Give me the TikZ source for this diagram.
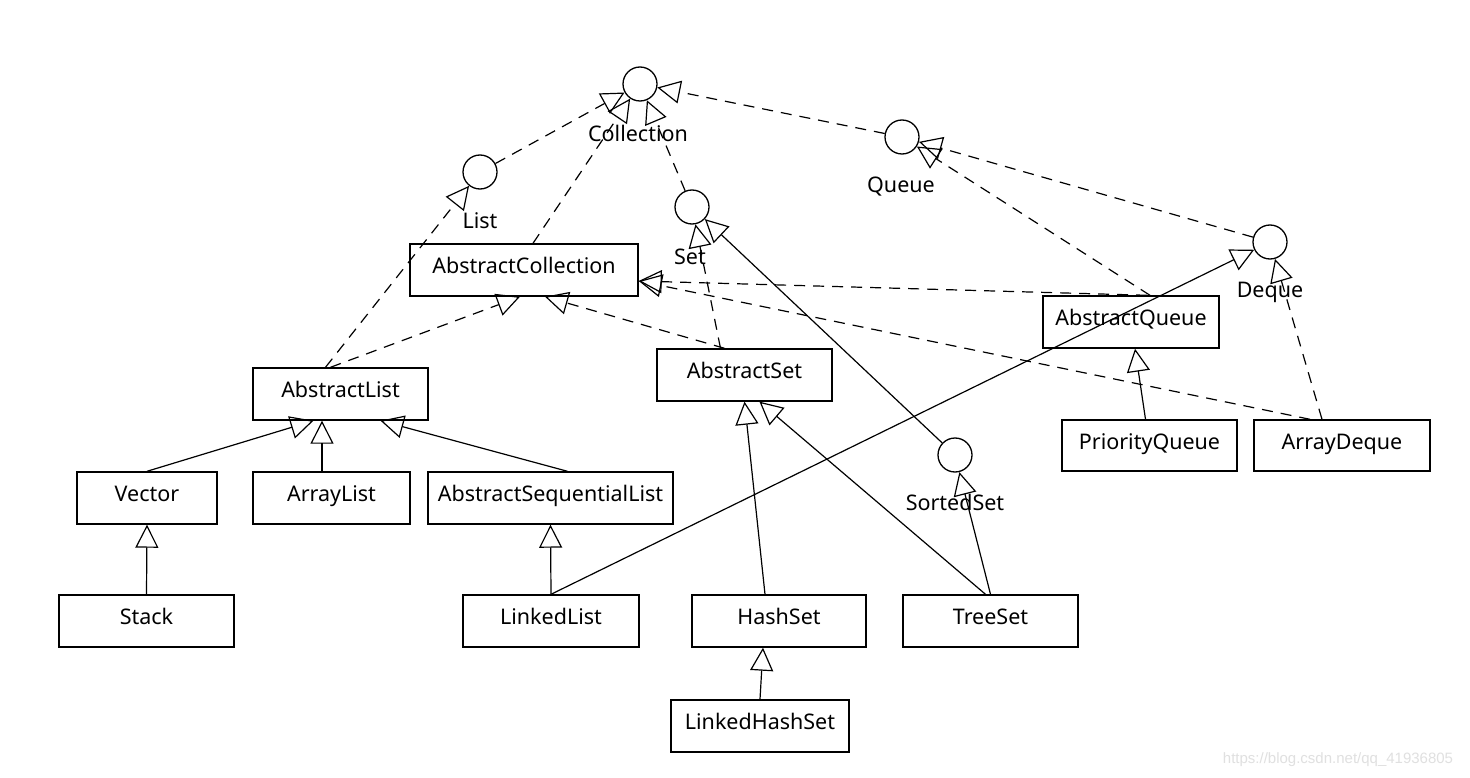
\documentclass[tikz,border=0pt]{standalone}
\usepackage{fontspec}
\setmainfont{Noto Sans}
\usetikzlibrary{arrows.meta}
\begin{document}
\begin{tikzpicture}[x=1pt,y=-1pt,
 txt/.style={font=\fontsize{21.5}{24}\selectfont},
 cls/.style={draw,line width=1.4pt,rectangle,inner sep=0pt,txt,minimum height=52pt,text height=16pt,text depth=9pt},
 ifc/.style={draw,circle,line width=1.3pt,minimum size=34pt,inner sep=0pt},
 lbl/.style={txt,inner sep=0pt},
 gen/.style={line width=1.2pt,-{Triangle[open,length=23pt,width=23pt,line width=1.2pt]}},
 realz/.style={gen,dash pattern=on 11pt off 8pt}]
\useasboundingbox[fill=white] (0,0) rectangle (1470,778);

% interfaces
\node[ifc] (coll) at (640,84) {};
\node[ifc] (list) at (480,172) {};
\node[ifc] (set) at (692,207) {};
\node[ifc] (queue) at (902,137) {};
\node[ifc] (deque) at (1270,242) {};
\node[ifc] (sset) at (955,455) {};
\node[lbl] (collL) at (638,133) {Collection};
\node[lbl] (listL) at (480,221) {List};
\node[lbl] (setL) at (690,257) {Set};
\node[lbl] (queueL) at (901,187) {Queue};
\node[lbl] (dequeL) at (1270,292) {Deque};
\node[lbl] (ssetL) at (955,502) {SortedSet};

% classes
\node[cls,minimum width=228pt] (ac) at (524,270) {AbstractCollection};
\node[cls,minimum width=175pt] (al) at (340.5,394) {AbstractList};
\node[cls,minimum width=175pt] (as) at (744.5,375) {AbstractSet};
\node[cls,minimum width=176pt] (aq) at (1131,322) {AbstractQueue};
\node[cls,minimum width=140pt] (vec) at (147,498) {Vector};
\node[cls,minimum width=157pt] (arl) at (331.5,498) {ArrayList};
\node[cls,minimum width=245pt] (asl) at (550.5,498) {AbstractSequentialList};
\node[cls,minimum width=175pt] (stk) at (146.5,621) {Stack};
\node[cls,minimum width=176pt] (ll) at (551,621) {LinkedList};
\node[cls,minimum width=174pt] (hs) at (779,621) {HashSet};
\node[cls,minimum width=175pt] (ts) at (990.5,621) {TreeSet};
\node[cls,minimum width=178pt] (lhs) at (760,726) {LinkedHashSet};
\node[cls,minimum width=175pt,minimum height=51pt] (pq) at (1149.5,445.5) {PriorityQueue};
\node[cls,minimum width=176pt,minimum height=51pt] (ad) at (1342,445.5) {ArrayDeque};

% realizations (dashed)
\draw[realz] (list) -- (coll);
\draw[realz] ([xshift=9pt]ac.north) -- (coll);
\draw[realz] (set) -- (coll);
\draw[realz] (queue) -- (coll);
\draw[realz] (deque) -- (queue);
\draw[realz] ([xshift=19pt]aq.north) -- (queue);
\draw[realz] ([xshift=16pt]aq.north) -- ([yshift=-11pt]ac.east);
\draw[realz] ([xshift=-32pt]ad.north) -- ([yshift=-11pt]ac.east);
\draw[realz] ([xshift=-20pt]ad.north) -- (deque);
\draw[realz] ([xshift=-10pt]al.north) -- ([xshift=-4pt]ac.south);
\draw[realz] ([xshift=-15pt]al.north) -- (list);
\draw[realz] ([xshift=-20pt]as.north) -- ([xshift=21pt]ac.south);
\draw[realz] ([xshift=-24pt]as.north) -- (set);

% generalizations (solid)
\draw[gen] (ll.north) -- (deque);
\draw[gen] (ll.north) -- (asl.south);
\draw[gen] ([xshift=-4pt]pq.north) -- ([xshift=4pt]aq.south);
\draw[gen] (vec.north) -- ([xshift=-27pt]al.south);
\draw[gen] ([xshift=-9.5pt]arl.north) -- ([xshift=-18.5pt]al.south);
\draw[gen] ([xshift=17pt]asl.north) -- ([xshift=40pt]al.south);
\draw[gen] (stk.north) -- (vec.south);
\draw[gen] ([xshift=-14pt]hs.north) -- (as.south);
\draw[gen] ([xshift=-5pt]ts.north) -- ([xshift=15pt]as.south);
\draw[gen] (ts.north) -- (sset);
\draw[gen] (sset) -- (set);
\draw[gen] (lhs.north) -- ([xshift=-16pt]hs.south);

% watermark
\node[font=\fontsize{15}{17}\selectfont\fontspec{Liberation Sans},text=black!12,inner sep=0pt] (wm) at (1338,760) {https://blog.csdn.net/qq\_41936805};
\end{tikzpicture}
\end{document}
